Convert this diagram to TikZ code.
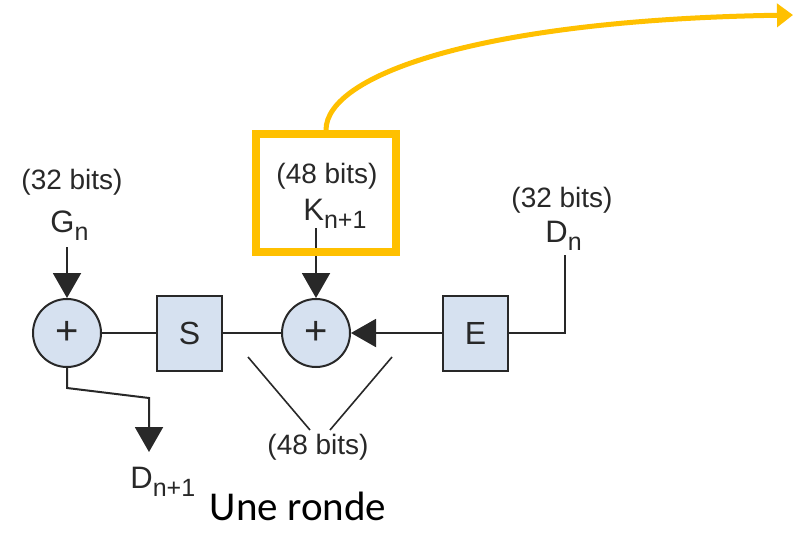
\documentclass[tikz,border=0pt]{standalone}
\usepackage{fontspec}
\setmainfont{Liberation Sans}
\newfontfamily\slidefont{Carlito}
\usetikzlibrary{arrows.meta}
\definecolor{linegray}{RGB}{40, 40, 40}
\definecolor{opblue}{RGB}{214, 225, 240}
\definecolor{keygold}{RGB}{255, 192, 0}
\newcommand{\varsub}[2]{#1\raisebox{-4pt}{\fontsize{12.5}{12.5}\selectfont #2}}

\begin{document}
\begin{tikzpicture}[x=0.5pt, y=-0.5pt,
        adder/.style={circle, draw=linegray, line width=1pt, fill=opblue,
            minimum size=34pt, inner sep=0pt, text=linegray,
            font=\fontsize{20}{20}\selectfont},
        regbox/.style={draw=linegray, line width=1pt, fill=opblue,
            minimum width=32.5pt, minimum height=37.5pt, inner sep=0pt,
            text=linegray, font=\fontsize{16}{16}\selectfont},
        bits/.style={inner sep=0pt, text=linegray, font=\fontsize{14}{14}\selectfont},
        var/.style={inner sep=0pt, text=linegray, anchor=base west,
            font=\fontsize{15.5}{15.5}\selectfont},
        wire/.style={line width=1pt, draw=linegray},
        arr/.style={wire, -{Triangle[width=14pt, length=12.5pt]}}
    ]

    \useasboundingbox (0,0) rectangle (795,534);

    \node[adder] (addL) at (67, 333) {+};
    \node[regbox] (Sbox) at (189.5, 333) {S};
    \node[adder] (addK) at (316, 333) {+};
    \node[regbox] (Ebox) at (475.5, 333) {E};

    \node[bits] (bitsG) at (72, 182) {(32 bits)};
    \node[var] (Gn) at (50, 232) {\varsub{G}{n}};
    \coordinate (gin) at (67, 247);
    \draw[arr] (gin) -- (addL);

    \node[bits] (bitsK) at (327, 176) {(48 bits)};
    \node[var] (Kn) at (303, 220) {\varsub{K}{n+1}};
    \coordinate (kin) at (316, 228);
    \draw[arr] (kin) -- (addK);

    \node[bits] (bitsD) at (562, 200) {(32 bits)};
    \node[var] (Dn) at (545, 242) {\varsub{D}{n}};
    \coordinate (din) at (565, 255);
    \draw[wire] (din) |- (Ebox.east);

    \draw[wire] (addL) -- (Sbox);
    \draw[wire] (Sbox) -- (addK);
    \draw[arr] (Ebox) -- (addK);

    \coordinate (dbend) at (149, 398);
    \coordinate (dout) at (149, 452);
    \draw[arr] (addL.south) -- ++(0, 20) -- (dbend) -- (dout);
    \node[var] (Dn1) at (130, 488) {\varsub{D}{n+1}};

    \coordinate (vl) at (248, 357);
    \coordinate (vlb) at (310, 430);
    \coordinate (vr) at (392, 357);
    \coordinate (vrb) at (330, 430);
    \draw[wire, line width=0.8pt] (vl) -- (vlb) (vr) -- (vrb);
    \node[bits] (bitsB) at (318, 447) {(48 bits)};

    \node[draw=keygold, line width=4pt, minimum width=70pt,
          minimum height=59pt] (keybox) at (326, 193) {};
    \coordinate (tipout) at (793, 15);
    \draw[keygold, line width=2.5pt, -{Triangle[width=11.5pt, length=8pt]}]
        (keybox.north) .. controls (326, 75) and (480, 20) .. (tipout);

    \node[inner sep=0pt, anchor=base, font={\slidefont\fontsize{20.5}{20.5}\selectfont}]
        (title) at (298, 520) {Une ronde};

\end{tikzpicture}
\end{document}
